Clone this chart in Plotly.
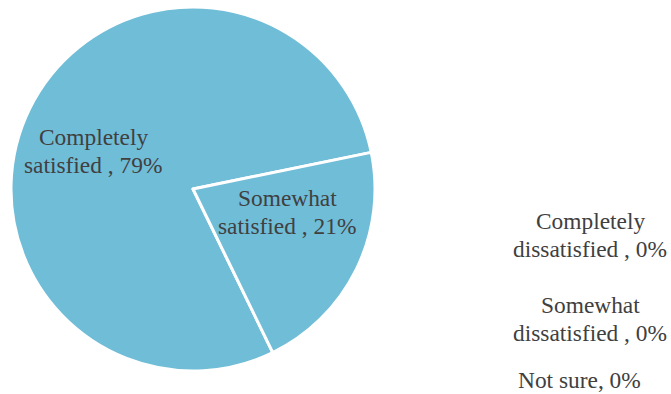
import plotly.graph_objects as go

categories = ["Completely satisfied", "Somewhat satisfied", "Completely dissatisfied",
              "Somewhat dissatisfied", "Not sure"]
display_lines = [["Completely", "satisfied , "], ["Somewhat", "satisfied , "],
                 ["Completely", "dissatisfied , "], ["Somewhat", "dissatisfied , "],
                 ["Not sure, "]]
values = [79, 21, 0, 0, 0]

W, H = 671, 394
# label anchor positions in pixels (styling): x center, y center of each line
label_x = [93, 287, 590, 590, 579]
label_y = [[137, 165], [198, 226], [221, 249], [305, 333], [380]]
FONT = "'Times New Roman', 'Liberation Serif', Times, serif"

pie_labels = [c for c, v in zip(categories, values) if v > 0]
pie_values = [v for v in values if v > 0]

fig = go.Figure(go.Pie(
    labels=pie_labels,
    values=pie_values,
    sort=False,
    direction="clockwise",
    rotation=154,
    marker=dict(colors=["#70BDD8"] * len(pie_values), line=dict(color="white", width=3)),
    textinfo="none",
    hoverinfo="label+percent",
    showlegend=False,
    domain=dict(x=[11 / W, 375 / W], y=[23 / H, 387 / H]),
))

for lines, v, px, pys in zip(display_lines, values, label_x, label_y):
    texts = list(lines)
    texts[-1] = f"{texts[-1]}{v}%"
    for t, py in zip(texts, pys):
        fig.add_annotation(
            x=px / W, y=1 - py / H, xref="paper", yref="paper",
            text=t, showarrow=False, align="center",
            font=dict(family=FONT, size=23.4, color="#404040"),
            xanchor="center", yanchor="middle",
        )

fig.update_layout(
    width=W, height=H,
    margin=dict(l=0, r=0, t=0, b=0),
    paper_bgcolor="white", plot_bgcolor="white",
    font=dict(family=FONT),
)

fig.write_html("out.html", config={"displayModeBar": False},
               post_script="document.body.style.margin='0px';")
